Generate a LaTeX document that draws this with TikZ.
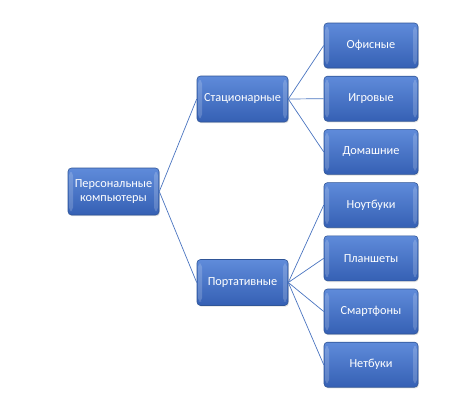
\documentclass[tikz,border=0pt]{standalone}
\usepackage{fontspec}
\setmainfont{Carlito}
\usetikzlibrary{shadows}
\definecolor{boxtop}{HTML}{5F8BDA}
\definecolor{boxbot}{HTML}{3560B4}
\definecolor{boxline}{HTML}{2F5597}
\definecolor{conn}{HTML}{4A74C0}
\begin{document}
\begin{tikzpicture}[x=1pt,y=-1pt,
  box/.style={rectangle, rounded corners=3.5pt, draw=boxline, line width=0.6pt,
    top color=boxtop, bottom color=boxbot, text=white, font=\fontsize{12.3}{14}\selectfont,
    align=center, inner sep=0pt,
    drop shadow={opacity=0.25, shadow xshift=0.8pt, shadow yshift=-1.2pt},
    path picture={
      \fill[white, opacity=0.18] ([xshift=1pt,yshift=-4pt]path picture bounding box.north west) rectangle ([xshift=5pt,yshift=4pt]path picture bounding box.south west);
      \fill[white, opacity=0.18] ([xshift=-5pt,yshift=-4pt]path picture bounding box.north east) rectangle ([xshift=-1pt,yshift=4pt]path picture bounding box.south east);
    }},
  root/.style={box, minimum width=91pt, minimum height=47pt},
  mid/.style={box, minimum width=91pt, minimum height=46pt},
  leaf/.style={box, minimum width=94pt, minimum height=45pt},
  link/.style={draw=conn, line width=0.7pt}]
\useasboundingbox (0,0) rectangle (475,407);
\node[root] (r) at (113.5,191.5) {Персональные\\компьютеры};
\node[mid] (s) at (242.5,99) {Стационарные};
\node[mid] (p) at (242.5,282.5) {Портативные};
\node[leaf] (l1) at (371,45.5) {Офисные};
\node[leaf] (l2) at (371,98.7) {Игровые};
\node[leaf] (l3) at (371,151.9) {Домашние};
\node[leaf] (l4) at (371,205.1) {Ноутбуки};
\node[leaf] (l5) at (371,258.3) {Планшеты};
\node[leaf] (l6) at (371,311.5) {Смартфоны};
\node[leaf] (l7) at (371,364.7) {Нетбуки};
\draw[link] (r.east) -- (s.west);
\draw[link] (r.east) -- (p.west);
\foreach \n in {l1,l2,l3} \draw[link] (s.east) -- (\n.west);
\foreach \n in {l4,l5,l6,l7} \draw[link] (p.east) -- (\n.west);
\end{tikzpicture}
\end{document}
